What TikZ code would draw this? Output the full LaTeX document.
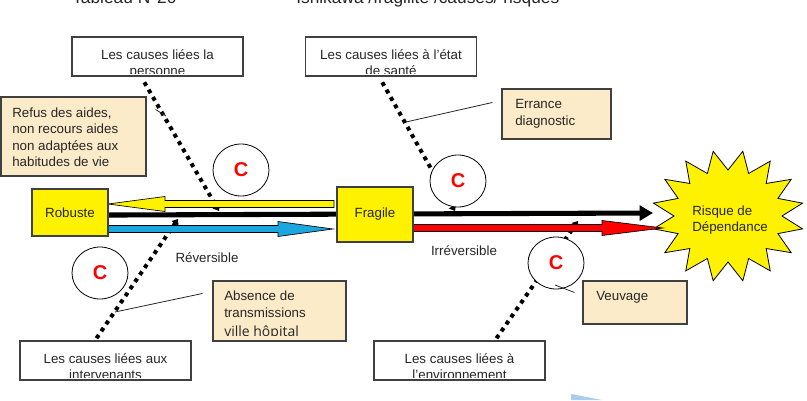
\documentclass[tikz,border=0pt]{standalone}
\usepackage{fontspec}
\setmainfont{Liberation Sans}
\newfontfamily\hopfont{Open Sans}
\usetikzlibrary{arrows.meta,shapes.geometric,backgrounds,calc}
\definecolor{notefill}{RGB}{252,235,200}
\definecolor{boxline}{RGB}{64,64,64}
\definecolor{arrowblue}{RGB}{28,166,224}
\definecolor{paleblue}{RGB}{170,205,238}
\tikzset{
  causebox/.style={draw=boxline,fill=white,line width=0.8pt,inner sep=0,minimum width=128.25pt,minimum height=29.25pt},
  notebox/.style={draw=boxline,fill=notefill,line width=0.8pt,inner sep=0},
  statebox/.style={draw=boxline,fill=yellow,line width=0.8pt,inner sep=0,text=black!85,font=\fontsize{10}{12}\selectfont},
  boxtext/.style={inner sep=0,text=black!85,font=\fontsize{10}{12}\selectfont},
  titletext/.style={inner sep=0,text=black!85,font=\fontsize{13}{15}\selectfont},
  cbubble/.style={ellipse,draw,fill=white,line width=0.6pt,minimum width=42pt,minimum height=39pt,inner sep=0,text=red,font=\fontsize{15}{15}\selectfont\bfseries},
  bone/.style={line width=3pt,dash pattern=on 3pt off 3.4pt,-{Triangle[length=4pt,width=6pt]}},
  mainarrow/.style={line width=3.8pt,-{Triangle[length=10pt,width=11pt]}},
  leader/.style={line width=0.6pt,black!85}
}
\begin{document}
\begin{tikzpicture}[x=0.75pt,y=-0.75pt]
\useasboundingbox (0,0) rectangle (807,400);
% titres
\node[titletext,anchor=base west] (tab) at (72,3) {Tableau N°20};
\node[titletext,anchor=base west] (ishi) at (296,3) {Ishikawa /fragilité /causes/ risques};
% boites des causes
\foreach \nm/\cx/\cy in {personne/157.5/56.5,sante/391/56.5,interv/105.5/360.5,envir/459.5/360.5}{\node[causebox] (\nm) at (\cx,\cy) {};}
\foreach \nm/\txt in {personne/{Les causes liées la\\personne},sante/{Les causes liées à l’état\\de santé},interv/{Les causes liées aux\\intervenants},envir/{Les causes liées à\\l’environnement}}{
  \begin{scope}
  \clip (\nm.north west) rectangle ([yshift=2.25pt]\nm.south east);
  \node[boxtext,align=center,anchor=north] (\nm-t) at ([yshift=-9.4pt]\nm.north) {\txt};
  \end{scope}}
% notes
\node[notebox,minimum width=108.75pt,minimum height=59.25pt] (refus) at (73.5,136.5) {};
\node[boxtext,align=left,anchor=north west,font=\fontsize{10}{12.3}\selectfont] (refus-t) at (12,107.5) {Refus des aides,\\non recours aides\\non adaptées aux\\habitudes de vie};
\node[notebox,minimum width=81.75pt,minimum height=37.5pt] (errance) at (556.5,114) {};
\node[boxtext,align=left,anchor=north west,font=\fontsize{10}{12.75}\selectfont] (errance-t) at (515,99.5) {Errance\\diagnostic};
\node[notebox,minimum width=99.75pt,minimum height=45pt] (absence) at (279.5,311) {};
\begin{scope}
\clip (absence.north west) rectangle ([yshift=4.5pt]absence.south east);
\node[boxtext,align=left,anchor=north west,font=\fontsize{10}{12.75}\selectfont] (absence-t) at (224,291) {Absence de\\transmissions\\[1.2pt]{\hopfont\fontsize{10.5}{12}\selectfont ville hôpital}};
\end{scope}
\node[notebox,minimum width=78pt,minimum height=32.25pt] (veuvage) at (635,302.5) {};
\node[boxtext,anchor=north west] (veuvage-t) at (596,291.5) {Veuvage};
% etats
\node[statebox,minimum width=57pt,minimum height=35.25pt] (robuste) at (70,212.5) {Robuste};
\node[statebox,minimum width=57pt,minimum height=41.25pt] (fragile) at (375,214.5) {Fragile};
\node[boxtext,align=left,anchor=north west,font=\fontsize{10}{12}\selectfont] (risque) at (692,206) {Risque de\\Dépendance};
\node[boxtext] (rev) at (207,258) {Réversible};
\node[boxtext] (irrev) at (464,251) {Irréversible};
% bulles C
\foreach \nm/\cx/\cy in {c1/241/170,c2/458/181,c3/100/273,c4/556/263}{\node[cbubble] (\nm) at (\cx,\cy) {C};}
% aretes
\coordinate (b1) at (219,211);
\coordinate (b2) at (455,211);
\coordinate (b3) at (178,219);
\coordinate (b4) at (578,221);
\coordinate (tip) at (653,213);
\begin{pgfonlayer}{background}
\filldraw[fill=yellow,draw=black,line width=0.6pt] plot[samples at={0,...,31}] ({728+(mod(\x,2)==0 ? 76 : 54)*cos(\x*11.25+11.25)},{216+(mod(\x,2)==0 ? 66 : 46)*sin(\x*11.25+11.25)}) -- cycle;
\draw[bone,shorten <=5pt] ([xshift=-12.4pt]personne.south) -- (b1);
\draw[bone,shorten <=5pt] ([xshift=-9pt]sante.south) -- (b2);
\draw[bone,shorten <=2pt] ([xshift=-7.9pt]interv.north) -- (b3);
\draw[bone,shorten <=2pt] ([xshift=26.6pt]envir.north) -- (b4);
\draw[mainarrow] ([yshift=-1.9pt]robuste.east) -- (tip);
\foreach \xt/\xp/\yc/\hb/\col in {334/108/204/165/yellow,108/333/229/278/arrowblue,413/663/228/602/red}{
  \filldraw[fill=\col,draw=black,line width=0.5pt] (\xt,\yc-3.5) -- (\hb,\yc-3.5) -- (\hb,\yc-7.5) -- (\xp,\yc) -- (\hb,\yc+7.5) -- (\hb,\yc+3.5) -- (\xt,\yc+3.5) -- cycle;}
\end{pgfonlayer}
% renvois
\draw[leader] ($(refus.north east)+(9,13)$) -- (166,116);
\draw[leader] ($(errance.north west)+(-9,14)$) -- (406,122);
\draw[leader] ($(absence.north west)+(-10,13)$) -- (115,312);
\draw[leader] ($(veuvage.north west)+(-8,12)$) -- (555,285);
\fill[paleblue] (571,394) -- (571,400) -- (602,400) -- cycle;
\end{tikzpicture}
\end{document}
